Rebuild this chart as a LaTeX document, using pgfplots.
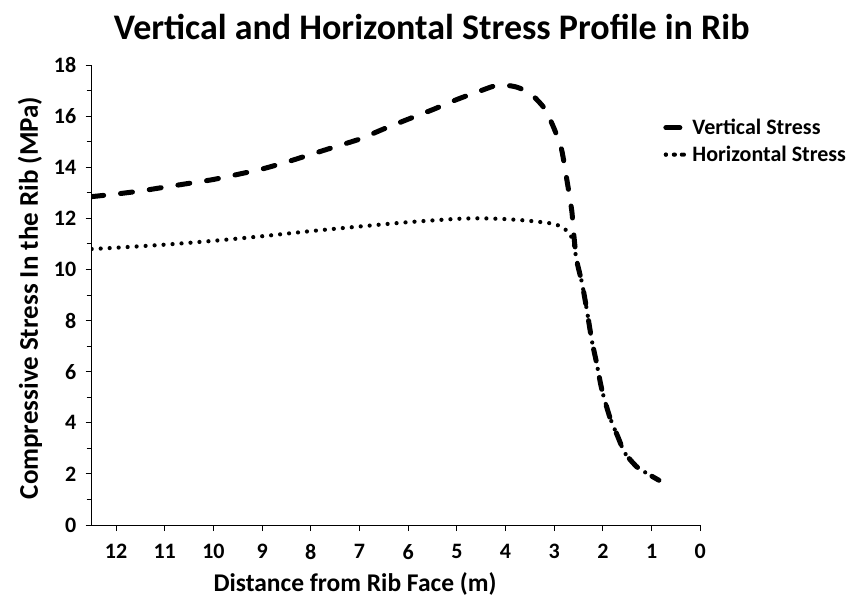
\documentclass[border=0pt]{standalone}
\usepackage{fontspec}
\setmainfont{Carlito}
\usepackage{pgfplots}
\pgfplotsset{compat=1.18}
\begin{document}
\begin{tikzpicture}
\useasboundingbox (-91.7pt,-81pt) rectangle (757.3pt,525pt);
\begin{axis}[
  at={(0,0)}, anchor=south west,
  scale only axis, width=608.6pt, height=460pt,
  x dir=reverse, xmin=0, xmax=12.5, ymin=0, ymax=18,
  axis x line*=bottom, axis y line*=left,
  axis line style={line width=1pt},
  xtick={0,1,...,12}, ytick={0,2,...,18}, minor ytick={1,3,...,17},
  tick align=outside, major tick length=6pt, minor tick length=5pt,
  tick style={line width=1pt, black},
  /pgf/number format/assume math mode=true,
  ticklabel style={font=\bfseries\fontsize{22}{22}\selectfont},
  xticklabel style={yshift=-10pt},
  yticklabel style={xshift=-6pt},
  legend style={draw=none, fill=none, at={(0.939,0.887)}, anchor=north west,
    font=\bfseries\fontsize{22}{22}\selectfont, row sep=6pt, inner sep=0pt},
  legend cell align=left,
]
\addplot[black, line width=5pt, line cap=round, dash pattern=on 12pt off 17pt, smooth, tension=0.4,
  legend image code/.code={\path (0pt,0pt) -- (22pt,0pt);\draw[line width=5pt, line cap=round] (2pt,0pt) -- (15pt,0pt);}]
 coordinates {
 (12.5,12.85) (12,12.95) (11.5,13.07) (11,13.22) (10.5,13.37) (10,13.52) (9.5,13.72) (9,13.93)
 (8.5,14.2) (8,14.5) (7.5,14.8) (7,15.1) (6.5,15.5) (6,15.88) (5.5,16.25) (5,16.65) (4.5,17.0)
 (4.15,17.22) (3.8,17.15) (3.5,16.9) (3.2,16.3) (3.0,15.5) (2.85,14.7) (2.74,13.5) (2.64,12.3)
 (2.6,11.4) (2.54,10.37) (2.43,9.47) (2.33,8.41) (2.23,7.24) (2.13,6.34) (2.02,5.28) (1.86,4.23)
 (1.69,3.44) (1.55,2.82) (1.30,2.27) (1.04,1.96) (0.85,1.75)
 };
\addlegendentry{Vertical Stress}
\addplot[black, line width=4.2pt, line cap=round, dash pattern=on 0pt off 9pt, smooth, tension=0.4,
  legend image code/.code={\path (0pt,0pt) -- (22pt,0pt);\draw[line width=4.2pt, line cap=round, dash pattern=on 0pt off 8pt] (0pt,0pt) -- (17pt,0pt);}]
 coordinates {
 (12.5,10.8) (12,10.85) (11,10.97) (10,11.12) (9,11.3) (8,11.5) (7,11.68) (6,11.85) (5,11.98)
 (4.5,12.0) (4,11.97) (3.5,11.9) (3.0,11.78) (2.8,11.6) (2.68,11.4) (2.6,11.0) (2.54,10.37) (2.43,9.47)
 (2.33,8.41) (2.23,7.24) (2.13,6.34) (2.02,5.28) (1.86,4.23) (1.69,3.44) (1.55,2.82) (1.30,2.27)
 (1.04,1.96) (0.85,1.75)
 };
\addlegendentry{Horizontal Stress}
\end{axis}
\node[anchor=base, font=\bfseries\fontsize{36}{36}\selectfont] at (340pt,485pt) {Vertical and Horizontal Stress Profile in Rib};
\node[rotate=90, font=\bfseries\fontsize{27}{27}\selectfont] at (-61.7pt,227pt) {Compressive Stress In the Rib (MPa)};
\node[font=\bfseries\fontsize{25.5}{25.5}\selectfont] at (263.3pt,-59pt) {Distance from Rib Face (m)};
\end{tikzpicture}
\end{document}
